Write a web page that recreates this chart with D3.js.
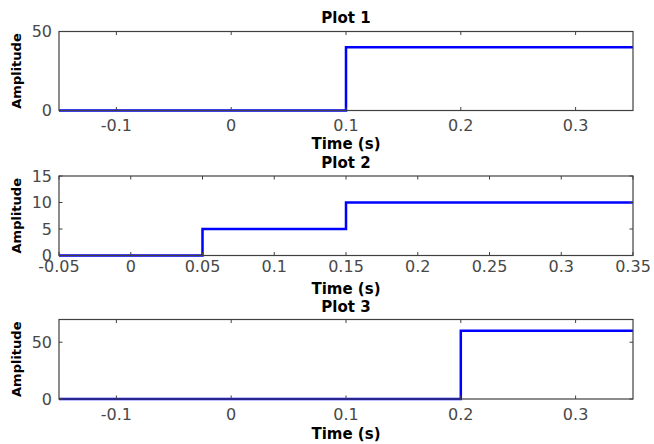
<!DOCTYPE html>
<html>
<head>
<meta charset="utf-8">
<script src="https://cdn.jsdelivr.net/npm/d3@7"></script>
<style>
  html, body { margin: 0; padding: 0; background: #fff; }
  svg { display: block; }
  text { font-family: "DejaVu Sans", "Liberation Sans", Arial, sans-serif; }
</style>
</head>
<body>
<svg id="chart" width="654" height="444"></svg>
<script>
// ---- Data ----
const titles = ["Plot 1", "Plot 2", "Plot 3"];
const xLabel = "Time (s)";
const yLabel = "Amplitude";

const p1Times = [-0.15, 0.1, 0.35];
const p1Values = [0, 40, 40];
const p2Times = [-0.05, 0.05, 0.15, 0.35];
const p2Values = [0, 5, 10, 10];
const p3Times = [-0.15, 0.2, 0.35];
const p3Values = [0, 60, 60];

const p1XDomain = [-0.15, 0.35];
const p2XDomain = [-0.05, 0.35];
const p3XDomain = [-0.15, 0.35];
const p1YDomain = [0, 50];
const p2YDomain = [0, 15];
const p3YDomain = [0, 70];

const p1XTicks = [-0.1, 0, 0.1, 0.2, 0.3];
const p2XTicks = [-0.05, 0, 0.05, 0.1, 0.15, 0.2, 0.25, 0.3, 0.35];
const p3XTicks = [-0.1, 0, 0.1, 0.2, 0.3];
const p1XTickLabels = ["-0.1", "0", "0.1", "0.2", "0.3"];
const p2XTickLabels = ["-0.05", "0", "0.05", "0.1", "0.15", "0.2", "0.25", "0.3", "0.35"];
const p3XTickLabels = ["-0.1", "0", "0.1", "0.2", "0.3"];
const p1YTicks = [0, 50];
const p2YTicks = [0, 5, 10, 15];
const p3YTicks = [0, 50];

// ---- Layout ----
const left = 59, right = 633;
const panels = [
  { title: titles[0], times: p1Times, values: p1Values, xd: p1XDomain, yd: p1YDomain,
    xt: p1XTicks, xtl: p1XTickLabels, yt: p1YTicks,
    top: 31.5, bottom: 110.5, titleY: 23, tickLabelDy: 20.5, xLabelY: 148.5 },
  { title: titles[1], times: p2Times, values: p2Values, xd: p2XDomain, yd: p2YDomain,
    xt: p2XTicks, xtl: p2XTickLabels, yt: p2YTicks,
    top: 176, bottom: 255.5, titleY: 167.5, tickLabelDy: 16, xLabelY: 294 },
  { title: titles[2], times: p3Times, values: p3Values, xd: p3XDomain, yd: p3YDomain,
    xt: p3XTicks, xtl: p3XTickLabels, yt: p3YTicks,
    top: 319.5, bottom: 399, titleY: 312, tickLabelDy: 21, xLabelY: 438.5 }
];

const svg = d3.select("#chart");
const axisColor = "#404040";
const tickColor = "#484848";
const tickLen = 3.5;

panels.forEach(p => {
  const x = d3.scaleLinear().domain(p.xd).range([left, right]);
  const y = d3.scaleLinear().domain(p.yd).range([p.bottom, p.top]);
  const g = svg.append("g");

  // step line
  const pts = p.times.map((t, i) => [t, p.values[i]]);
  const line = d3.line().x(d => x(d[0])).y(d => y(d[1])).curve(d3.curveStepAfter);
  g.append("path").datum(pts)
    .attr("d", line)
    .attr("fill", "none")
    .attr("stroke", "#0000ff")
    .attr("stroke-width", 2.5);

  // box
  g.append("rect")
    .attr("x", left).attr("y", p.top)
    .attr("width", right - left).attr("height", p.bottom - p.top)
    .attr("fill", "none").attr("stroke", axisColor).attr("stroke-width", 1.2);

  // x ticks (bottom & top, inward)
  p.xt.forEach(v => {
    g.append("line").attr("x1", x(v)).attr("x2", x(v))
      .attr("y1", p.bottom).attr("y2", p.bottom - tickLen)
      .attr("stroke", axisColor);
    g.append("line").attr("x1", x(v)).attr("x2", x(v))
      .attr("y1", p.top).attr("y2", p.top + tickLen)
      .attr("stroke", axisColor);
  });
  p.xt.forEach((v, i) => {
    g.append("text").attr("x", x(v)).attr("y", p.bottom + p.tickLabelDy)
      .attr("text-anchor", "middle").attr("font-size", 16).attr("fill", tickColor)
      .text(p.xtl[i]);
  });

  // y ticks (left & right, inward)
  p.yt.forEach(v => {
    g.append("line").attr("x1", left).attr("x2", left + tickLen)
      .attr("y1", y(v)).attr("y2", y(v)).attr("stroke", axisColor);
    g.append("line").attr("x1", right).attr("x2", right - tickLen)
      .attr("y1", y(v)).attr("y2", y(v)).attr("stroke", axisColor);
    g.append("text").attr("x", left - 7).attr("y", y(v))
      .attr("dy", "0.36em")
      .attr("text-anchor", "end").attr("font-size", 16).attr("fill", tickColor)
      .text(String(v));
  });

  // title
  g.append("text").attr("x", (left + right) / 2).attr("y", p.titleY)
    .attr("text-anchor", "middle").attr("font-size", 15).attr("font-weight", "bold")
    .attr("fill", "#000").text(p.title);

  // x label
  g.append("text").attr("x", (left + right) / 2).attr("y", p.xLabelY)
    .attr("text-anchor", "middle").attr("font-size", 15).attr("font-weight", "bold")
    .attr("fill", "#000").text(xLabel);

  // y label
  const cy = (p.top + p.bottom) / 2;
  g.append("text").attr("transform", `translate(21,${cy}) rotate(-90)`)
    .attr("text-anchor", "middle").attr("font-size", 13).attr("font-weight", "bold")
    .attr("fill", "#000").text(yLabel);
});
</script>
</body>
</html>
